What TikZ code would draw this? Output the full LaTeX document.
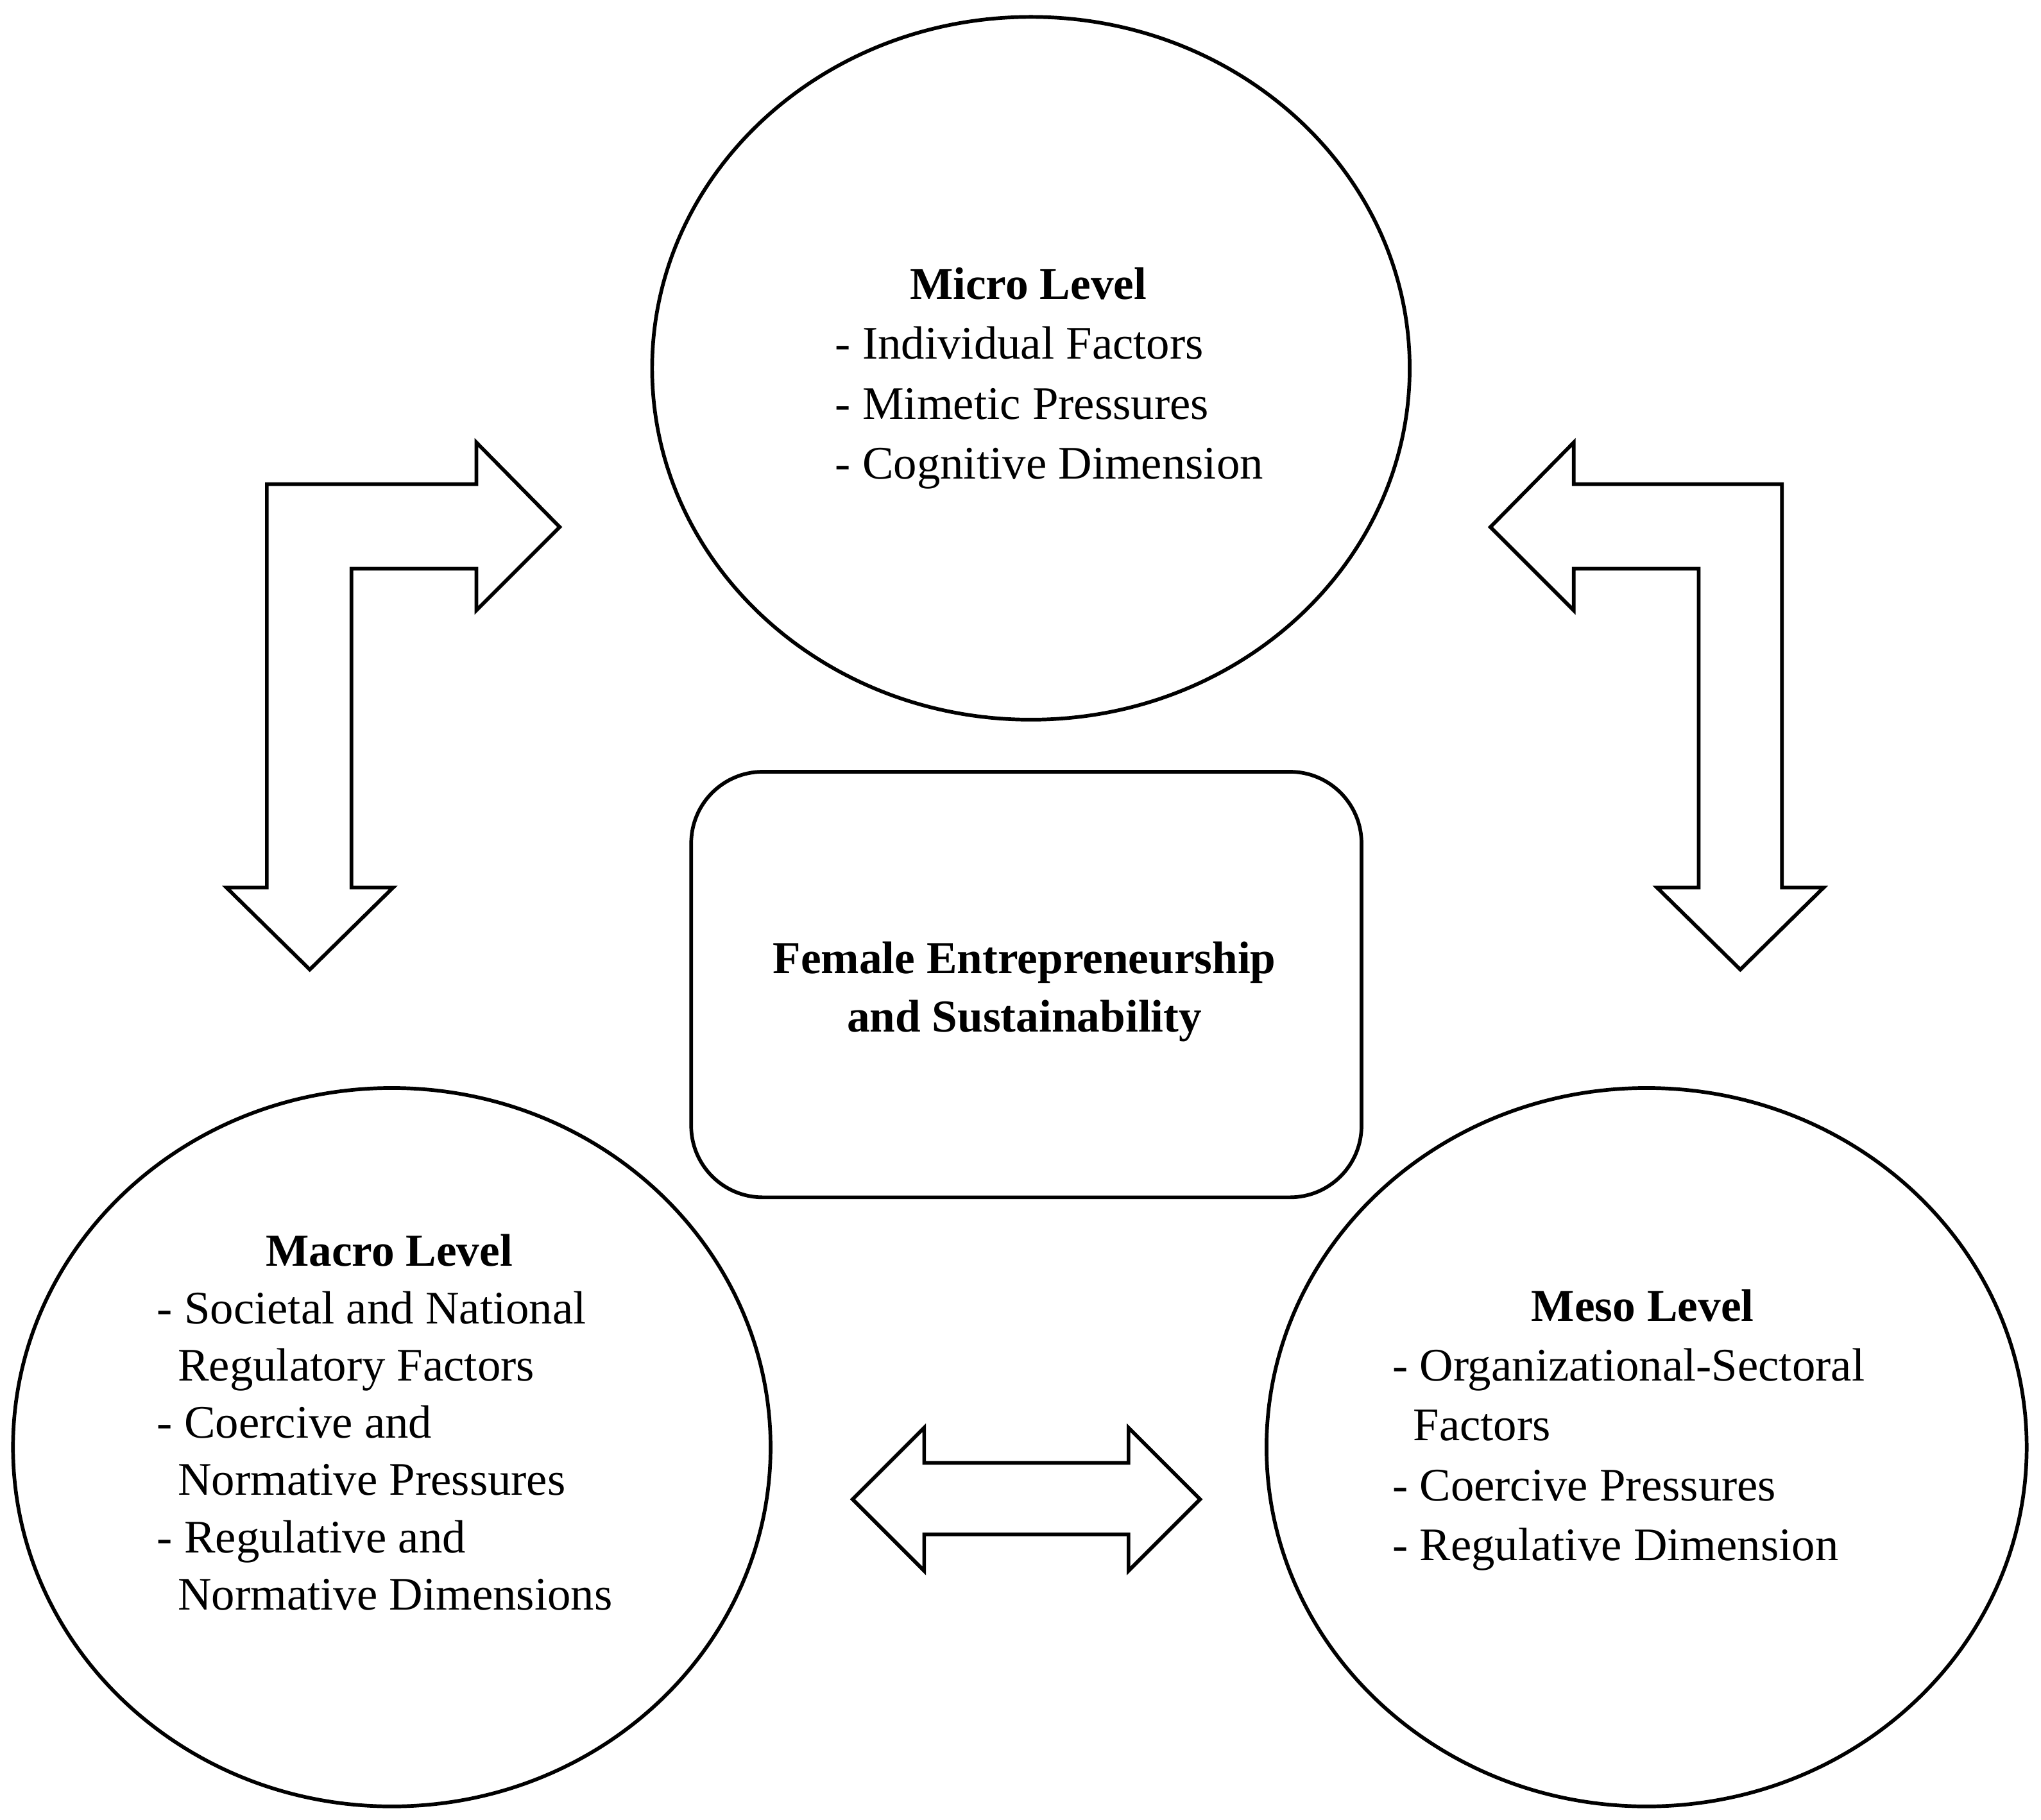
\documentclass[tikz,border=0pt]{standalone}
\usepackage{fontspec}
\setmainfont{Liberation Serif}
\begin{document}
\begin{tikzpicture}[x=0.01cm,y=-0.01cm,
  shp/.style={draw,line width=0.8pt},
  txt/.style={anchor=base west,inner sep=0pt,font=\fontsize{10.2}{12}\selectfont},
  hd/.style={anchor=base,inner sep=0pt,font=\fontsize{10}{12}\selectfont\bfseries}]
\useasboundingbox (0,0) rectangle (1568,1398);
% ellipses and box
\draw[shp] (792,283) ellipse [x radius=291,y radius=270];
\draw[shp] (301,1112) ellipse [x radius=291,y radius=276];
\draw[shp] (1265,1112) ellipse [x radius=292,y radius=276];
\draw[shp,rounded corners=0.55cm] (531,593) rectangle (1046,920);
% arrows
\draw[shp] (238,745) -- (174,682) -- (205,682) -- (205,372) -- (366,372) -- (366,340)
  -- (430,405) -- (366,469) -- (366,437) -- (270,437) -- (270,682) -- (302,682) -- cycle;
\draw[shp] (1337,745) -- (1273,682) -- (1305,682) -- (1305,437) -- (1209,437) -- (1209,469)
  -- (1145,405) -- (1209,340) -- (1209,372) -- (1369,372) -- (1369,682) -- (1401,682) -- cycle;
\draw[shp] (655,1152) -- (710,1097) -- (710,1124) -- (867,1124) -- (867,1097) -- (922,1152)
  -- (867,1207) -- (867,1179) -- (710,1179) -- (710,1207) -- cycle;
% micro
\node[hd] (mich) at (790,230) {Micro Level};
\node[txt] (mi1) at (641,276) {- Individual Factors};
\node[txt] (mi2) at (641,322) {- Mimetic Pressures};
\node[txt] (mi3) at (641,368) {- Cognitive Dimension};
% centre
\node[hd] (c1) at (787,748) {Female Entrepreneurship};
\node[hd] (c2) at (787,793) {and Sustainability};
% macro
\node[hd] (mah) at (299,973) {Macro Level};
\node[txt] (ma1) at (120,1017) {- Societal and National};
\node[txt] (ma2) at (136,1061) {Regulatory Factors};
\node[txt] (ma3) at (120,1105) {- Coercive and};
\node[txt] (ma4) at (136,1149) {Normative Pressures};
\node[txt] (ma5) at (120,1193) {- Regulative and};
\node[txt] (ma6) at (136,1237) {Normative Dimensions};
% meso
\node[hd] (meh) at (1262,1015) {Meso Level};
\node[txt] (me1) at (1069,1061) {- Organizational-Sectoral};
\node[txt] (me2) at (1085,1107) {Factors};
\node[txt] (me3) at (1069,1153) {- Coercive Pressures};
\node[txt] (me4) at (1069,1199) {- Regulative Dimension};
\end{tikzpicture}
\end{document}
